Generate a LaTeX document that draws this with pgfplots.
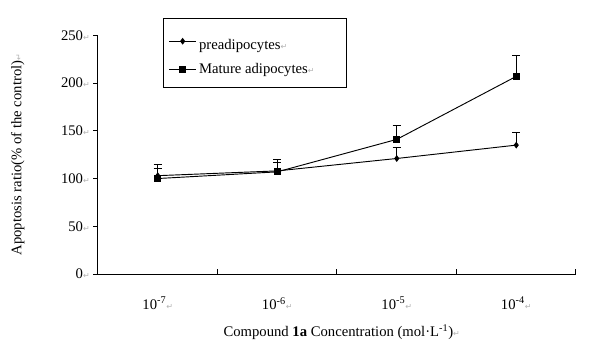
\documentclass[border=0pt]{standalone}
\usepackage{fontspec}
\setmainfont{Liberation Serif}
\newfontfamily\retfont{DejaVu Sans}
\usepackage{pgfplots}
\pgfplotsset{compat=1.18}
% Word paragraph marks, as in the original figure
\newcommand{\ret}{{\retfont\fontsize{6}{6}\selectfont\color{gray!60}↵}}
\begin{document}
\begin{tikzpicture}[font=\fontsize{11}{13}\selectfont]
\useasboundingbox (-73.5pt,-62.25pt) rectangle (376.5pt,205.5pt);
\begin{axis}[
  scale only axis, width=358.5pt, height=179pt,
  xmin=-0.5, xmax=3.5, ymin=0, ymax=250,
  axis lines*=left, axis line style={line width=0.75pt},
  xtick={-0.5,0.5,1.5,2.5,3.5}, x tick label as interval,
  xticklabels={10\textsuperscript{-7}\ret, 10\textsuperscript{-6}\ret,
               10\textsuperscript{-5}\ret, 10\textsuperscript{-4}\ret},
  ytick={0,50,...,250},
  yticklabel={\pgfmathprintnumber{\tick}\ret},
  /pgf/number format/assume math mode=true,
  tick align=inside, major tick length=3.6pt,
  tick style={black, line width=0.75pt},
  ytick style={xshift=-3.6pt},
  xticklabel style={anchor=center, yshift=-22pt},
  yticklabel style={anchor=east, inner sep=0pt, xshift=-6pt},
  xlabel={Compound \textbf{1a} Concentration (mol·L\textsuperscript{-1})\ret},
  ylabel={Apoptosis ratio(\% of the control)\ret},
  xlabel style={at={(axis description cs:0.51,-0.245)}, anchor=center},
  ylabel style={at={(axis description cs:-0.168,0.5)}, anchor=center, rotate=0},
  legend style={at={(axis description cs:0.136,1.071)}, anchor=north west,
    draw=black, line width=0.75pt, inner xsep=4pt, inner ysep=7pt,
    row sep=5pt, font=\fontsize{11}{13}\selectfont},
  legend cell align=left,
  legend image code/.code={\draw[mark repeat=2, mark phase=2] plot coordinates {(0pt,0pt) (10pt,0pt) (20pt,0pt)};},
  error bars/y dir=plus, error bars/y explicit,
  error bars/error bar style={black, line width=0.75pt},
  error bars/error mark options={black, line width=0.75pt, mark size=3pt, rotate=90},
]
\addplot[black, line width=0.7pt, mark=diamond*, mark size=2pt] coordinates {
  (0,103) +- (0,8)
  (1,108) +- (0,9)
  (2,121) +- (0,12)
  (3,135) +- (0,13)
};
\addlegendentry{\rule{0pt}{14pt}preadipocytes\ret\hspace*{18pt}}
\addplot[black, line width=0.7pt, mark=square*, mark size=2.3pt] coordinates {
  (0,100) +- (0,15)
  (1,107) +- (0,13)
  (2,141) +- (0,15)
  (3,207) +- (0,22)
};
\addlegendentry{Mature adipocytes\ret\hspace*{18pt}}
\end{axis}
\end{tikzpicture}
\end{document}
